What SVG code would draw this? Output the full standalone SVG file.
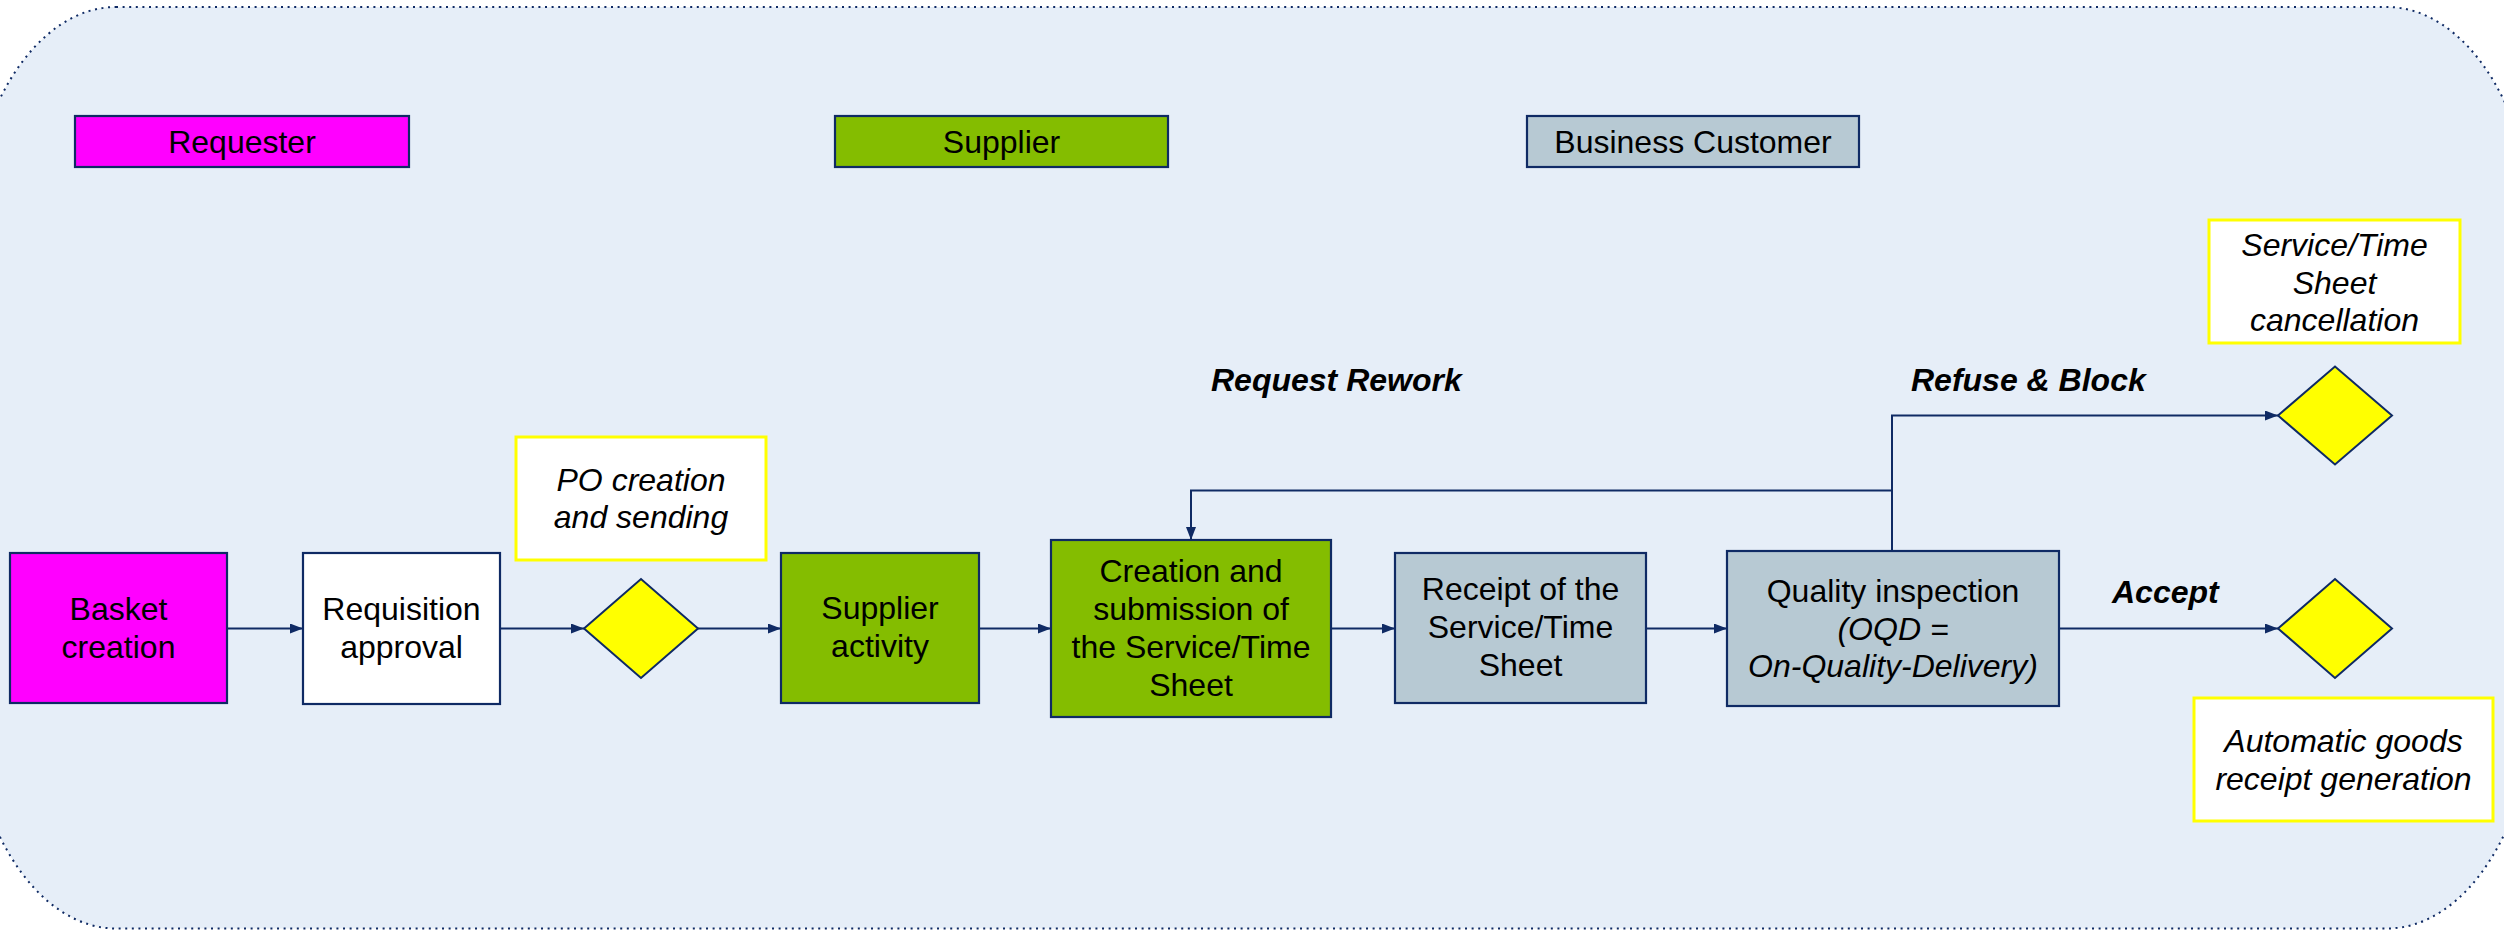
<svg xmlns="http://www.w3.org/2000/svg" width="2504" height="930" viewBox="0 0 2504 930">
  <defs>
    <marker id="arrow" markerUnits="userSpaceOnUse" markerWidth="13" markerHeight="10" refX="13" refY="5" orient="auto">
      <path d="M0,0 L13,5 L0,10 z" fill="#0F2A64"/>
    </marker>
    <style>
      .frame { fill: #E6EEF8; stroke: #0F2A64; stroke-width: 2; stroke-dasharray: 2 4.6; }
      .box { stroke: #0F2A64; stroke-width: 2.2; }
      .note { fill: #FFFFFF; stroke: #FFFF00; stroke-width: 3; }
      .gate { fill: #FFFF00; stroke: #0F2A64; stroke-width: 2; }
      .magenta { fill: #FF00FF; }
      .green { fill: #84BD00; }
      .grey { fill: #B7C9D3; }
      .white { fill: #FFFFFF; }
      text { font-family: "Liberation Sans", Arial, sans-serif; font-size: 32px; fill: #000000; }
      .c { text-anchor: middle; }
      .i { font-style: italic; }
      .lbl { font-weight: bold; font-style: italic; }
      .conn { fill: none; stroke: #0F2A64; stroke-width: 2; }
    </style>
  </defs>

  <!-- rounded backdrop -->
  <rect class="frame" x="-34" y="7" width="2571" height="921.5" rx="150" ry="250"/>

  <!-- legend -->
  <g id="legend-requester">
    <rect class="box magenta" x="75" y="116" width="334" height="51"/>
    <text class="c" x="242" y="153">Requester</text>
  </g>
  <g id="legend-supplier">
    <rect class="box green" x="835" y="116" width="333" height="51"/>
    <text class="c" x="1001.5" y="153">Supplier</text>
  </g>
  <g id="legend-customer">
    <rect class="box grey" x="1527" y="116" width="332" height="51"/>
    <text class="c" x="1693" y="153">Business Customer</text>
  </g>

  <!-- connectors -->
  <g id="connectors">
    <line class="conn" x1="227" y1="628.5" x2="303" y2="628.5" marker-end="url(#arrow)"/>
    <line class="conn" x1="500" y1="628.5" x2="584" y2="628.5" marker-end="url(#arrow)"/>
    <line class="conn" x1="698" y1="628.5" x2="781" y2="628.5" marker-end="url(#arrow)"/>
    <line class="conn" x1="979" y1="628.5" x2="1051" y2="628.5" marker-end="url(#arrow)"/>
    <line class="conn" x1="1331" y1="628.5" x2="1395" y2="628.5" marker-end="url(#arrow)"/>
    <line class="conn" x1="1646" y1="628.5" x2="1727" y2="628.5" marker-end="url(#arrow)"/>
    <line class="conn" x1="2059" y1="628.5" x2="2278" y2="628.5" marker-end="url(#arrow)"/>
    <polyline class="conn" points="1892,551 1892,415.5 2278,415.5" marker-end="url(#arrow)"/>
    <polyline class="conn" points="1892,490.5 1191,490.5 1191,540" marker-end="url(#arrow)"/>
    <text class="lbl" x="1211" y="391">Request Rework</text>
    <text class="lbl" x="1911" y="391">Refuse &amp; Block</text>
    <text class="lbl" x="2112" y="603">Accept</text>
  </g>

  <!-- process steps -->
  <g id="basket-creation">
    <rect class="box magenta" x="10" y="553" width="217" height="150"/>
    <text class="c" x="118.5" y="620">Basket</text>
    <text class="c" x="118.5" y="658">creation</text>
  </g>
  <g id="requisition-approval">
    <rect class="box white" x="303" y="553" width="197" height="151"/>
    <text class="c" x="401.5" y="620">Requisition</text>
    <text class="c" x="401.5" y="658">approval</text>
  </g>
  <g id="po-note">
    <rect class="note" x="516" y="437" width="250" height="123"/>
    <text class="c i" x="641" y="491">PO creation</text>
    <text class="c i" x="641" y="528">and sending</text>
  </g>
  <g id="po-gate">
    <polygon class="gate" points="584,628.5 641,579 698,628.5 641,678"/>
  </g>
  <g id="supplier-activity">
    <rect class="box green" x="781" y="553" width="198" height="150"/>
    <text class="c" x="880" y="619">Supplier</text>
    <text class="c" x="880" y="657">activity</text>
  </g>
  <g id="sheet-submission">
    <rect class="box green" x="1051" y="540" width="280" height="177"/>
    <text class="c" x="1191" y="582">Creation and</text>
    <text class="c" x="1191" y="620">submission of</text>
    <text class="c" x="1191" y="658">the Service/Time</text>
    <text class="c" x="1191" y="696">Sheet</text>
  </g>
  <g id="sheet-receipt">
    <rect class="box grey" x="1395" y="553" width="251" height="150"/>
    <text class="c" x="1520.5" y="600">Receipt of the</text>
    <text class="c" x="1520.5" y="638">Service/Time</text>
    <text class="c" x="1520.5" y="676">Sheet</text>
  </g>
  <g id="quality-inspection">
    <rect class="box grey" x="1727" y="551" width="332" height="155"/>
    <text class="c" x="1893" y="602">Quality inspection</text>
    <text class="c i" x="1893" y="639.5">(OQD =</text>
    <text class="c i" x="1893" y="677">On-Quality-Delivery)</text>
  </g>
  <g id="cancel-gate">
    <polygon class="gate" points="2278,415.5 2335,366.5 2392,415.5 2335,464.5"/>
  </g>
  <g id="cancel-note">
    <rect class="note" x="2209" y="220" width="251" height="123"/>
    <text class="c i" x="2334.5" y="256">Service/Time</text>
    <text class="c i" x="2334.5" y="293.5">Sheet</text>
    <text class="c i" x="2334.5" y="331">cancellation</text>
  </g>
  <g id="accept-gate">
    <polygon class="gate" points="2278,628.5 2335,579 2392,628.5 2335,678"/>
  </g>
  <g id="receipt-note">
    <rect class="note" x="2194" y="698" width="299" height="123"/>
    <text class="c i" x="2343.5" y="752">Automatic goods</text>
    <text class="c i" x="2343.5" y="789.5">receipt generation</text>
  </g>
</svg>
